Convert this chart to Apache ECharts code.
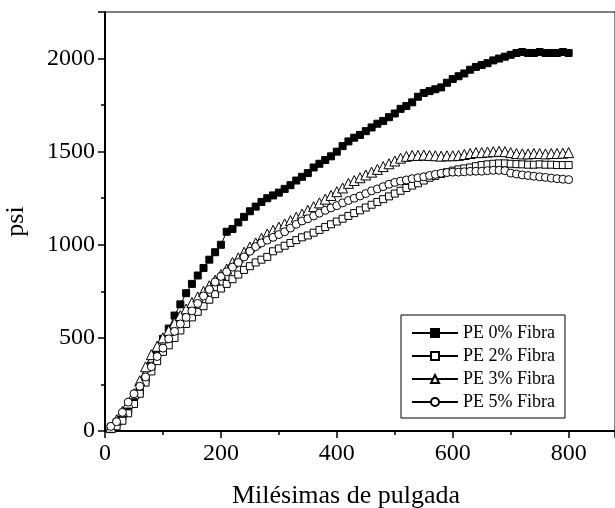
<!DOCTYPE html>
<html>
<head>
<meta charset="utf-8">
<script src="https://cdn.jsdelivr.net/npm/echarts@6/dist/echarts.min.js"></script>
<style>html,body{margin:0;padding:0;background:#fff;}#c{width:615px;height:508px;}</style>
</head>
<body>
<div id="c"></div>
<script>
var xValues = [10,20,30,40,50,60,70,80,90,100,110,120,130,140,150,160,170,180,190,200,210,220,230,240,250,260,270,280,290,300,310,320,330,340,350,360,370,380,390,400,410,420,430,440,450,460,470,480,490,500,510,520,530,540,550,560,570,580,590,600,610,620,630,640,650,660,670,680,690,700,710,720,730,740,750,760,770,780,790,800];
var pe0 = [20,45,80,115,150,215,280,350,420,495,550,620,680,740,790,835,875,920,960,1000,1070,1085,1120,1150,1180,1205,1230,1250,1265,1280,1300,1320,1345,1365,1385,1415,1435,1455,1475,1500,1530,1555,1575,1590,1610,1630,1650,1665,1685,1705,1730,1745,1765,1795,1815,1825,1835,1845,1870,1890,1905,1920,1940,1955,1965,1975,1990,2000,2010,2020,2030,2035,2030,2030,2035,2030,2030,2030,2035,2030];
var pe2 = [10,25,55,95,145,200,260,320,375,425,460,500,540,575,610,640,670,705,735,765,790,815,840,865,885,905,920,935,965,980,995,1010,1025,1040,1050,1065,1080,1095,1110,1125,1140,1155,1170,1185,1200,1215,1230,1245,1260,1275,1290,1305,1318,1330,1345,1360,1370,1380,1390,1398,1405,1410,1415,1422,1428,1432,1435,1437,1437,1435,1433,1432,1430,1430,1432,1430,1430,1428,1428,1428];
var pe3 = [20,60,105,150,200,270,345,410,455,500,540,580,620,655,690,720,750,780,810,840,870,905,930,960,988,1010,1035,1058,1078,1095,1112,1130,1148,1165,1185,1205,1225,1245,1265,1285,1305,1330,1345,1360,1375,1390,1405,1420,1435,1450,1465,1475,1480,1480,1482,1480,1478,1476,1478,1478,1480,1485,1490,1495,1495,1498,1500,1502,1500,1495,1490,1488,1488,1490,1490,1488,1490,1490,1492,1495];
var pe5 = [25,50,100,155,200,240,290,345,400,445,495,535,575,610,645,685,725,760,800,830,855,880,905,935,965,990,1010,1025,1040,1055,1070,1090,1110,1128,1140,1155,1170,1185,1198,1210,1225,1238,1250,1262,1275,1290,1300,1312,1325,1335,1342,1348,1355,1360,1365,1372,1378,1384,1388,1390,1390,1392,1394,1395,1395,1398,1400,1400,1398,1385,1380,1375,1372,1368,1365,1362,1358,1355,1352,1350];
var seriesNames = ['PE 0% Fibra','PE 2% Fibra','PE 3% Fibra','PE 5% Fibra'];
var xTitle = 'Milésimas de pulgada';
var yTitle = 'psi';

function pairs(ys){ return xValues.map(function(x,i){ return [x, ys[i]]; }); }
var FONT = '"Liberation Serif", "Times New Roman", serif';
function mk(name, ys, symbol, size, fill){
  return {
    name: name, type: 'line', data: pairs(ys), symbol: symbol, symbolSize: size,
    showAllSymbol: true,
    lineStyle: {color: '#000', width: 1},
    itemStyle: {color: fill, borderColor: '#000', borderWidth: 1},
    emphasis: {disabled: true}, animation: false
  };
}
function plain(v){ return String(v); }
var chart = echarts.init(document.getElementById('c'));
chart.setOption({
  animation: false,
  backgroundColor: '#fff',
  grid: {left: 105, top: 12, bottom: 77, right: 0, containLabel: false, outerBoundsMode: 'none',
         show: true, borderColor: '#000', borderWidth: 1, backgroundColor: 'transparent'},
  xAxis: {
    type: 'value', min: 0, max: 880, interval: 200,
    name: xTitle, nameLocation: 'middle', nameGap: 52,
    nameTextStyle: {fontFamily: FONT, fontSize: 26, color: '#000', padding: [0, 28, 0, 0]},
    axisLine: {show: true, lineStyle: {color: '#000', width: 2}},
    axisTick: {show: true, length: 7, lineStyle: {color: '#000', width: 1.5}},
    minorTick: {show: true, splitNumber: 2, length: 4, lineStyle: {color: '#000', width: 1.5}},
    splitLine: {show: false},
    axisLabel: {fontFamily: FONT, fontSize: 24, color: '#000', margin: 11, formatter: plain, showMaxLabel: false}
  },
  yAxis: {
    type: 'value', min: 0, max: 2250, interval: 500,
    name: yTitle, nameLocation: 'middle', nameGap: 76,
    nameTextStyle: {fontFamily: FONT, fontSize: 26, color: '#000'},
    axisLine: {show: true, lineStyle: {color: '#000', width: 2}},
    axisTick: {show: true, length: 7, lineStyle: {color: '#000', width: 1.5}},
    minorTick: {show: true, splitNumber: 2, length: 4, lineStyle: {color: '#000', width: 1.5}},
    splitLine: {show: false},
    axisLabel: {fontFamily: FONT, fontSize: 24, color: '#000', margin: 10, formatter: plain, showMaxLabel: false}
  },
  legend: {
    orient: 'vertical', left: 401, top: 315,
    padding: [9, 10, 7, 10], itemGap: 5, itemWidth: 46, itemHeight: 10,
    backgroundColor: '#fff', borderColor: '#000', borderWidth: 1,
    textStyle: {fontFamily: FONT, fontSize: 18, color: '#000'},
    data: seriesNames
  },
  series: [
    mk(seriesNames[0], pe0, 'rect', 7, '#000'),
    mk(seriesNames[1], pe2, 'rect', 7, '#fff'),
    mk(seriesNames[2], pe3, 'triangle', 10, '#fff'),
    mk(seriesNames[3], pe5, 'circle', 8, '#fff')
  ]
});
</script>
</body>
</html>
